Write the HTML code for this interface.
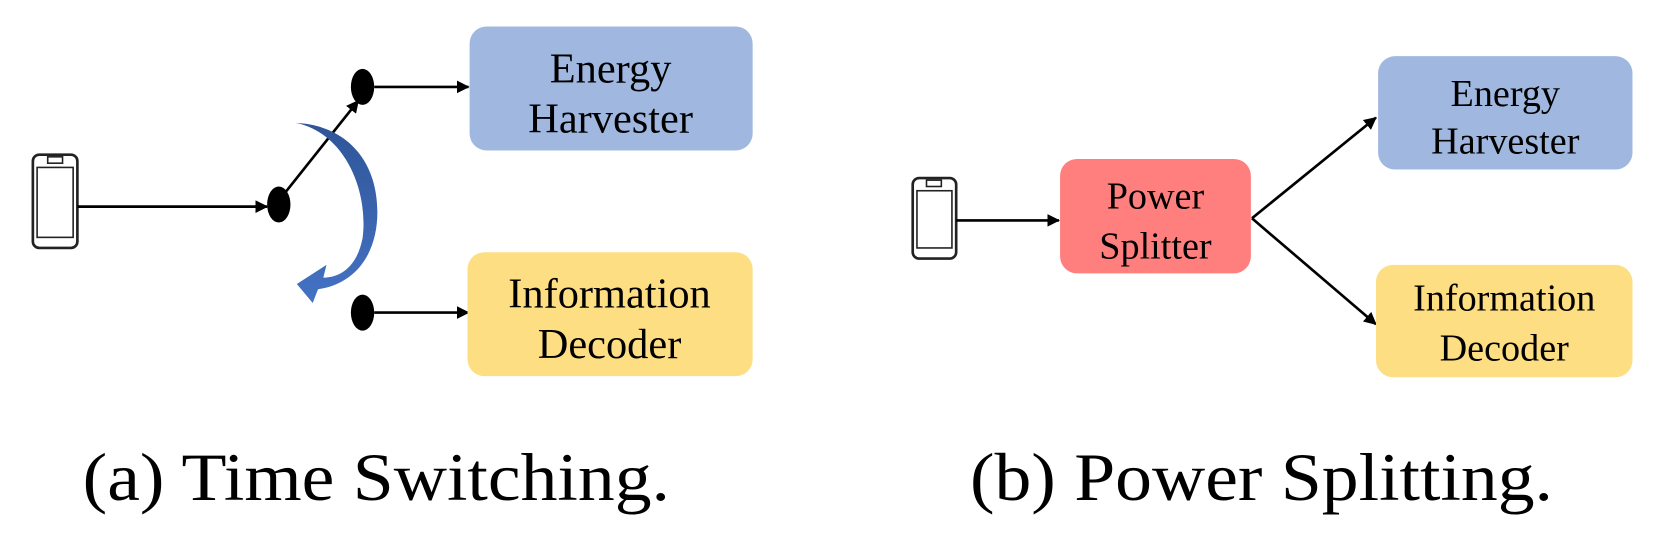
<!DOCTYPE html>
<html><head><style>
body{margin:0;background:#fff;}
svg text{font-family:"Liberation Serif",serif;}
</style></head><body>
<svg width="1659" height="533" viewBox="0 0 1565 503" preserveAspectRatio="none" xmlns="http://www.w3.org/2000/svg">
<defs>
<marker id="ah" markerWidth="12" markerHeight="12" refX="11" refY="6" orient="auto" markerUnits="userSpaceOnUse">
<path d="M0,0 L12,6 L0,12 z" fill="#000"/>
</marker>
<linearGradient id="bg" x1="0" y1="0" x2="0" y2="1">
<stop offset="0" stop-color="#2f5597"/><stop offset="1" stop-color="#4472c4"/>
</linearGradient>
</defs>
<!-- (a) -->
<rect x="31" y="146" width="42" height="88" rx="6" fill="none" stroke="#222" stroke-width="2.5"/>
<rect x="35" y="158" width="34" height="66" fill="none" stroke="#222" stroke-width="1.5"/>
<rect x="45" y="148" width="14" height="6" fill="none" stroke="#222" stroke-width="1.5"/>
<line x1="73" y1="195" x2="252" y2="195" stroke="#000" stroke-width="2.5" marker-end="url(#ah)"/>
<ellipse cx="263" cy="193" rx="11" ry="17" fill="#000"/>
<line x1="268" y1="183" x2="338" y2="95" stroke="#000" stroke-width="2.5" marker-end="url(#ah)"/>
<ellipse cx="342" cy="82" rx="11" ry="17" fill="#000"/>
<line x1="353" y1="82" x2="442" y2="82" stroke="#000" stroke-width="2.5" marker-end="url(#ah)"/>
<ellipse cx="342" cy="295" rx="11" ry="17" fill="#000"/>
<line x1="353" y1="295" x2="442" y2="295" stroke="#000" stroke-width="2.5" marker-end="url(#ah)"/>
<path d="M279,116 C325,125 348,180 342,225 C336,255 318,262 305,262 L308,250 L280,268 L295,286 L300,273 C335,268 356,240 356,200 C356,150 325,118 279,116 z" fill="url(#bg)"/>
<rect x="443" y="25" width="267" height="117" rx="16" fill="#a0b8e0"/>
<text x="576" y="78" font-size="40" text-anchor="middle">Energy</text>
<text x="576" y="125" font-size="40" text-anchor="middle">Harvester</text>
<rect x="441" y="238" width="269" height="117" rx="16" fill="#fede82"/>
<text x="575" y="290" font-size="40" text-anchor="middle">Information</text>
<text x="575" y="338" font-size="40" text-anchor="middle">Decoder</text>
<text x="78" y="472" font-size="64" textLength="554" lengthAdjust="spacingAndGlyphs">(a)  Time Switching.</text>
<!-- (b) -->
<rect x="861" y="168" width="41" height="76" rx="6" fill="none" stroke="#222" stroke-width="2.5"/>
<rect x="865" y="180" width="33" height="54" fill="none" stroke="#222" stroke-width="1.5"/>
<rect x="874" y="170" width="14" height="6" fill="none" stroke="#222" stroke-width="1.5"/>
<line x1="902" y1="208" x2="999" y2="208" stroke="#000" stroke-width="2.5" marker-end="url(#ah)"/>
<rect x="1000" y="150" width="180" height="108" rx="16" fill="#ff7f7f"/>
<text x="1090" y="197" font-size="36" text-anchor="middle">Power</text>
<text x="1090" y="244" font-size="36" text-anchor="middle">Splitter</text>
<line x1="1181" y1="206" x2="1298" y2="111" stroke="#000" stroke-width="2.5" marker-end="url(#ah)"/>
<line x1="1181" y1="206" x2="1298" y2="306" stroke="#000" stroke-width="2.5" marker-end="url(#ah)"/>
<rect x="1300" y="53" width="240" height="107" rx="16" fill="#a0b8e0"/>
<text x="1420" y="100" font-size="36" text-anchor="middle">Energy</text>
<text x="1420" y="145" font-size="36" text-anchor="middle">Harvester</text>
<rect x="1298" y="250" width="242" height="106" rx="16" fill="#fede82"/>
<text x="1419" y="293" font-size="36" text-anchor="middle">Information</text>
<text x="1419" y="340" font-size="36" text-anchor="middle">Decoder</text>
<text x="915" y="472" font-size="64" textLength="550" lengthAdjust="spacingAndGlyphs">(b)  Power Splitting.</text>
</svg>
</body></html>
